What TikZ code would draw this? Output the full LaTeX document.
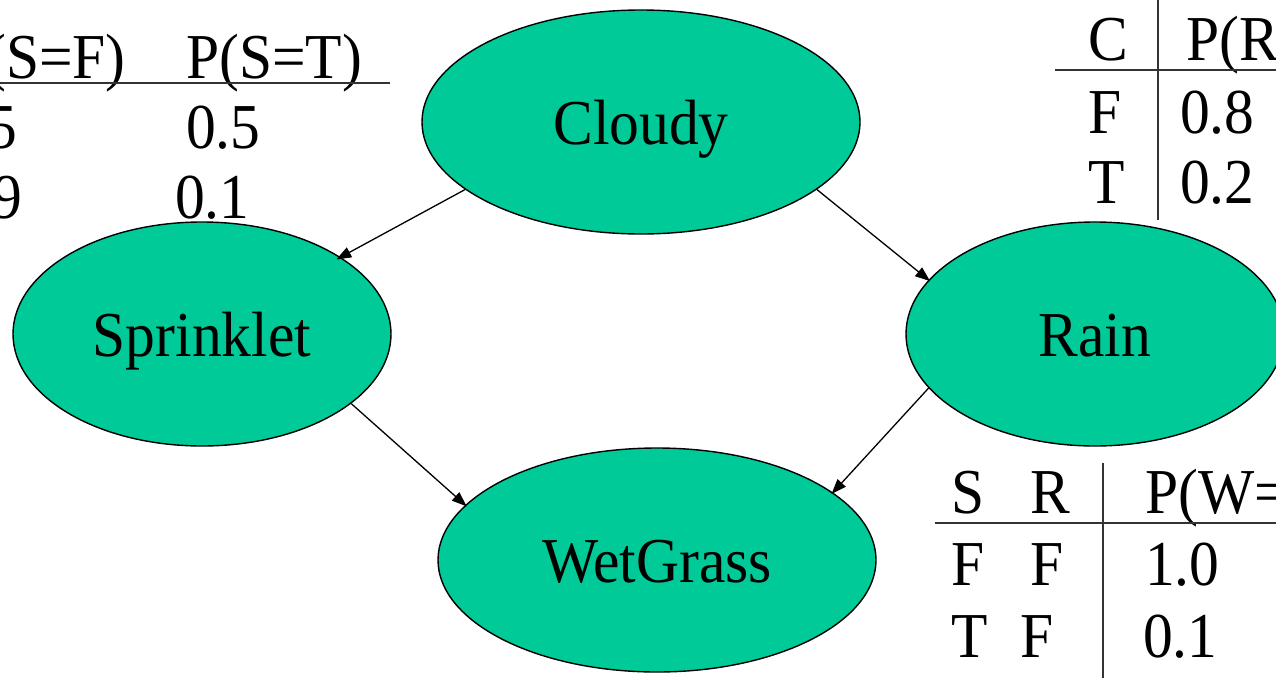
\documentclass[tikz,border=0pt]{standalone}
\usepackage{fontspec}
\setmainfont{Liberation Serif}[FakeStretch=0.93]
\usetikzlibrary{shapes.geometric,arrows.meta}
\definecolor{nodegreen}{RGB}{0,202,152}
\tikzset{
  bnode/.style={ellipse, draw=black, line width=1.4pt, fill=nodegreen,
    minimum width=438pt, minimum height=224pt, inner sep=0pt,
    text height=44pt, text depth=0pt, font=\fontsize{64}{70}\selectfont},
  bsmall/.style={ellipse, draw=black, line width=1.4pt, fill=nodegreen,
    minimum width=378pt, minimum height=224pt, inner sep=0pt,
    text height=44pt, text depth=0pt, font=\fontsize{64}{70}\selectfont},
  edge/.style={line width=1.3pt, -{Triangle[length=15pt,width=11pt]}},
  cell/.style={inner sep=0pt, anchor=base west, font=\fontsize{64}{70}\selectfont},
  celle/.style={inner sep=0pt, anchor=base east, font=\fontsize{64}{70}\selectfont},
  rule/.style={line width=2pt, draw=black!80}
}
\begin{document}
\begin{tikzpicture}[x=1pt,y=-1pt]
\useasboundingbox (0,0) rectangle (1276,678);
\clip (0,0) rectangle (1276,678);

% nodes
\node[bnode] (cloudy) at (641,122) {Cloudy};
\node[bsmall] (sprink) at (202,334) {Sprinklet};
\node[bsmall] (rain) at (1095,334) {Rain};
\node[bnode] (wet) at (657,560) {WetGrass};

% edges
\draw[edge, shorten >=-5pt] (cloudy.201.7) -- (sprink.29);
\draw[edge, shorten >=-2pt] (cloudy.-21.4) -- (rain.162.5);
\draw[edge, shorten >=-2pt] (sprink.-25.4) -- (wet.164.8);
\draw[edge, shorten >=-2pt] (rain.198.8) -- (wet.21.5);

% top-left table
\node[celle] (tlh1) at (126,78) {P(S=F)};
\node[cell] (tlh2) at (186,78) {P(S=T)};
\coordinate (tlA) at (0,83);
\coordinate (tlB) at (390,83);
\draw[rule] (tlA) -- (tlB);
\node[celle] (tl11) at (17,148) {0.5};
\node[cell] (tl12) at (186,148) {0.5};
\node[celle] (tl21) at (22,218) {0.9};
\node[cell] (tl22) at (175,218) {0.1};

% top-right table
\node[cell] (trc) at (1088,60) {C};
\node[cell] (trp) at (1186,60) {P(R=T)};
\node[cell] (trf) at (1088,133) {F};
\node[cell] (tr8) at (1180,133) {0.8};
\node[cell] (trt) at (1088,203) {T};
\node[cell] (tr2) at (1180,203) {0.2};
\coordinate (trV1) at (1158,0);
\coordinate (trV2) at (1158,220);
\coordinate (trH1) at (1055,70);
\coordinate (trH2) at (1276,70);
\draw[rule] (trV1) -- (trV2);
\draw[rule] (trH1) -- (trH2);

% bottom-right table
\node[cell] (brs) at (951,513) {S};
\node[cell] (brr) at (1030,513) {R};
\node[cell] (brp) at (1145,513) {P(W=T)};
\node[cell] (br11) at (951,585) {F};
\node[cell] (br12) at (1030,585) {F};
\node[cell] (br13) at (1145,585) {1.0};
\node[cell] (br21) at (951,657) {T};
\node[cell] (br22) at (1020,657) {F};
\node[cell] (br23) at (1143,657) {0.1};
\coordinate (brV1) at (1103,463);
\coordinate (brV2) at (1103,678);
\coordinate (brH1) at (935,523);
\coordinate (brH2) at (1276,523);
\draw[rule] (brV1) -- (brV2);
\draw[rule] (brH1) -- (brH2);
\end{tikzpicture}
\end{document}
